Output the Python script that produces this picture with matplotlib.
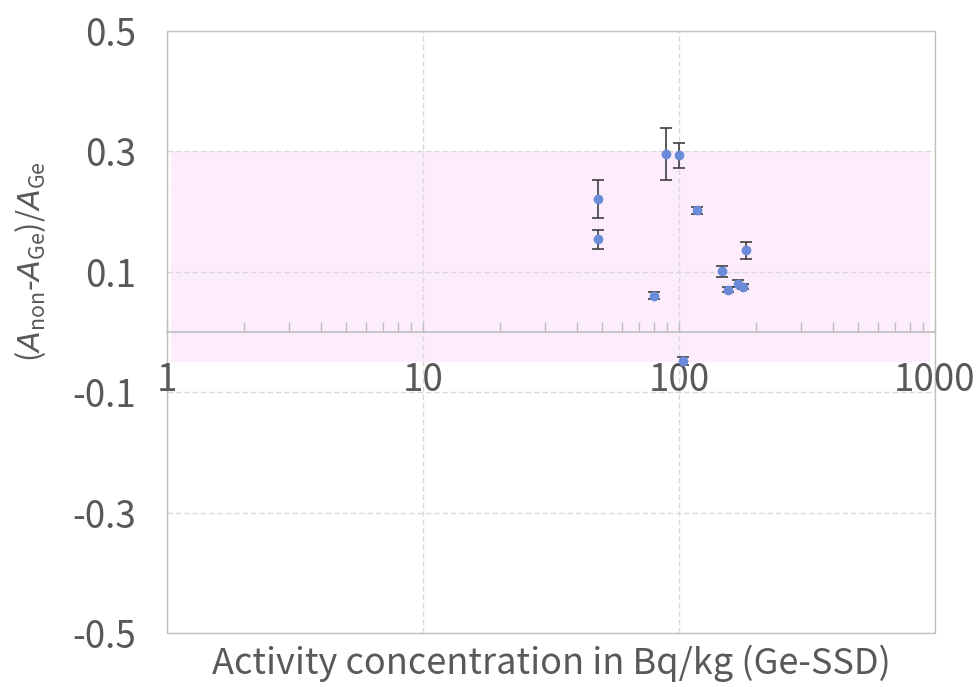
import matplotlib
matplotlib.use('Agg')
import matplotlib.pyplot as plt
from matplotlib.patches import Rectangle

plt.rcParams['font.family'] = ['Noto Sans CJK JP', 'DejaVu Sans']
plt.rcParams['mathtext.fontset'] = 'custom'
plt.rcParams['mathtext.rm'] = 'Noto Sans CJK JP'
plt.rcParams['mathtext.it'] = 'DejaVu Sans:italic'

# activity (Ge-SSD) in Bq/kg, relative deviation, and its uncertainty
conc = [48.3, 48.3, 80.1, 88.9, 100.0, 117.9, 147.6, 155.8, 170.4, 178.3, 182.2, 103.9]
dev = [0.154, 0.221, 0.060, 0.296, 0.2935, 0.202, 0.101, 0.070, 0.080, 0.075, 0.136, -0.048]
dev_err = [0.016, 0.031, 0.006, 0.043, 0.021, 0.006, 0.009, 0.004, 0.006, 0.004, 0.014, 0.006]

# acceptance band
band_x = [1.04, 955]
band_lo = -0.05
band_hi = 0.3

yticks = [-0.5, -0.3, -0.1, 0.1, 0.3, 0.5]
xticks = [1, 10, 100, 1000]

TXT = '#595959'
GRID = '#d9d9d9'
AXIS = '#bfbfbf'

fig = plt.figure(figsize=(9.78, 6.87), dpi=100)
ax = fig.add_axes([0.1708, 0.0786, 0.785, 0.8763])

ax.set_xscale('log')
ax.set_xlim(1, 1000)
ax.set_ylim(-0.5, 0.5)

ax.fill_between(band_x, band_lo, band_hi, color='#fcecfc', lw=0, zorder=0)

ax.set_yticks(yticks)
ax.set_yticklabels(['%.1f' % v for v in yticks])
ax.set_xticks(xticks)
ax.set_xticklabels([str(v) for v in xticks])

# gridlines
for v in yticks:
    ax.axhline(v, color=GRID, lw=1, ls=(0, (4, 2)), zorder=1)
for v in xticks:
    ax.axvline(v, color=GRID, lw=1, ls=(0, (4, 2)), zorder=1)

for s in ['top', 'right', 'left']:
    ax.spines[s].set_visible(False)
ax.spines['bottom'].set_position(('data', 0))
ax.spines['bottom'].set_color(AXIS)
ax.spines['bottom'].set_linewidth(1.2)
ax.add_patch(Rectangle((0, 0), 1, 1, transform=ax.transAxes, fill=False,
                       edgecolor=AXIS, lw=1, zorder=1, clip_on=False))

ax.tick_params(axis='x', which='both', direction='in', color=AXIS, width=1,
               length=7, labelsize=26.5, labelcolor=TXT, pad=21)
ax.tick_params(axis='y', length=0, labelsize=26.5, labelcolor=TXT, pad=22)
ax.tick_params(axis='x', which='minor', labelbottom=False)

ax.errorbar(conc, dev, yerr=dev_err, fmt='o', color='#6b8bd8', ms=6,
            ecolor='#404040', elinewidth=1.2, capsize=4.5, capthick=1.2,
            zorder=5, clip_on=False)

fig.text(0.5634, 0.035, 'Activity concentration in Bq/kg (Ge-SSD)', fontsize=26,
         color=TXT, ha='center', va='center')
fig.text(0.031, 0.62, r'$(A_{\mathrm{non}}$-$A_{\mathrm{Ge}})/A_{\mathrm{Ge}}$',
         rotation=90, ha='center', va='center', fontsize=22, color=TXT)

fig.savefig('out.png', dpi=100)
